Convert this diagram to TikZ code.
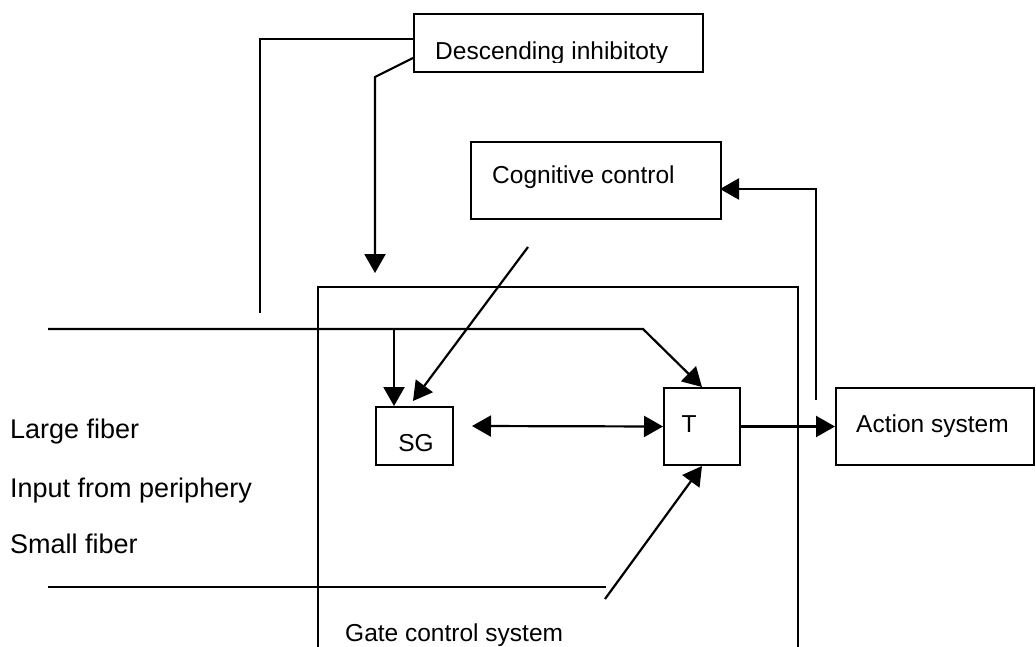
\documentclass[tikz,border=0pt]{standalone}
\usepackage{fontspec}
\setmainfont{Liberation Sans}
\usetikzlibrary{arrows.meta,calc}
\tikzset{
  box/.style={draw, line width=2pt, inner sep=0pt, anchor=north west},
  lbl/.style={inner sep=0pt, anchor=base west, font=\fontsize{24.5}{29}\selectfont},
  side/.style={inner sep=0pt, anchor=base west, font=\fontsize{27}{32}\selectfont},
  conn/.style={line width=2.2pt},
  arr/.style={line width=2.2pt, -{Triangle[length=19pt,width=21pt]}},
  darr/.style={line width=2.2pt, {Triangle[length=19pt,width=21pt]}-{Triangle[length=19pt,width=21pt]}}
}
\begin{document}
\begin{tikzpicture}[x=1pt,y=-1pt]
\useasboundingbox[fill=white] (0,0) rectangle (1036,647);
% boxes
\node[box, minimum width=480pt, minimum height=420pt] (gate) at (317,286) {};
\node[box, minimum width=289pt, minimum height=58pt] (desc) at (413,13) {};
\node[box, minimum width=250pt, minimum height=77pt] (cog) at (470,141) {};
\node[box, minimum width=77pt, minimum height=58pt] (sg) at (375,406) {};
\node[box, minimum width=76pt, minimum height=77pt] (t) at (663,387) {};
\node[box, minimum width=198pt, minimum height=77pt] (act) at (835,387) {};
% texts
\begin{scope}
\clip (413,13) rectangle (702,62.5);
\node[lbl] (desct) at (435,60) {Descending inhibitoty};
\end{scope}
\node[lbl] (cogt) at (492,184) {Cognitive control};
\node[lbl, anchor=base] (sgt) at (416,451) {SG};
\node[lbl, anchor=base] (tt) at (689,432) {T};
\node[lbl] (actt) at (856,432) {Action system};
\node[lbl] (gatet) at (345,641) {Gate control system};
\node[side] (large) at (10,438) {Large fiber};
\node[side] (input) at (10,497) {Input from periphery};
\node[side] (small) at (10,553) {Small fiber};
% coordinates
\coordinate (d1) at (413,39);
\coordinate (d1b) at (260,39);
\coordinate (d1e) at (260,313);
\coordinate (d2) at (413,58);
\coordinate (d2b) at (375,77);
\coordinate (d2e) at (375,273);
\coordinate (c1) at (528,247);
\coordinate (c1e) at (413,401);
\coordinate (lf0) at (48,329);
\coordinate (lfb) at (394,329);
\coordinate (lf1) at (643,329);
\coordinate (sgl) at (472,426);
\coordinate (a0) at (816,400);
\coordinate (a1) at (816,189);
\coordinate (cogr) at (720,189);
\coordinate (sf0) at (48,587);
\coordinate (sf1) at (606,587);
\coordinate (sf2) at (605,599);
% connectors
\draw[conn] (d1) -- (d1b) -- (d1e);
\draw[arr] (d2) -- (d2b) -- (d2e);
\draw[arr] (c1) -- (c1e);
\draw[arr] (lf0) -- (lf1) -- (t.north);
\draw[arr] (lfb) -- (lfb |- sg.north);
\draw[darr] (sgl) -- (t.west);
\draw[arr] (t.east) -- (act.west);
\draw[arr] (a0) -- (a1) -- (cogr);
\draw[conn] (sf0) -- (sf1);
\draw[arr] (sf2) -- (t.south);
\end{tikzpicture}
\end{document}
